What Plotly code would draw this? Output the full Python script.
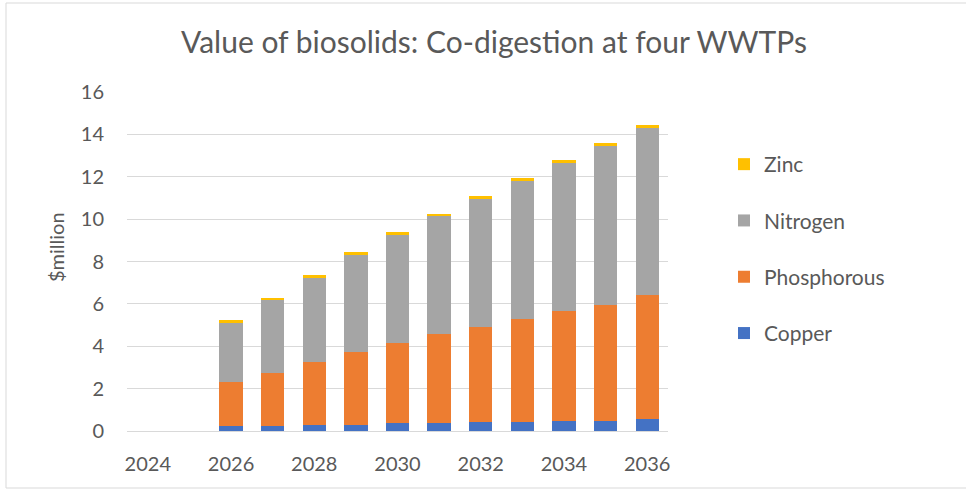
import plotly.graph_objects as go

# Years on the category axis (2024 and 2025 have no values)
years = [2024, 2025, 2026, 2027, 2028, 2029, 2030, 2031, 2032, 2033, 2034, 2035, 2036]
tick_years = [2024, 2026, 2028, 2030, 2032, 2034, 2036]

# Value of each recovered component, $million
copper = [None, None, 0.22, 0.22, 0.30, 0.30, 0.36, 0.36, 0.41, 0.41, 0.47, 0.47, 0.55]
phosphorous = [None, None, 2.09, 2.52, 2.95, 3.43, 3.81, 4.23, 4.50, 4.87, 5.19, 5.50, 5.85]
nitrogen = [None, None, 2.83, 3.47, 4.01, 4.60, 5.09, 5.55, 6.05, 6.54, 7.00, 7.50, 7.89]
zinc = [None, None, 0.09, 0.09, 0.09, 0.10, 0.11, 0.12, 0.12, 0.13, 0.14, 0.14, 0.15]

# name, values, colour, position in the legend (top first)
series = [
    ("Copper", copper, "#4472C4", 4),
    ("Phosphorous", phosphorous, "#ED7D31", 3),
    ("Nitrogen", nitrogen, "#A5A5A5", 2),
    ("Zinc", zinc, "#FFC000", 1),
]

FONT = "Lato, 'Open Sans', sans-serif"
TEXT = "#595959"
GRID = "#D9D9D9"

W, H = 966, 492
L, R, T, B = 127, 298, 92, 61

fig = go.Figure()
for name, vals, color, rank in series:
    fig.add_trace(go.Bar(
        x=years, y=vals, name=name, legendgroup=name, legendrank=rank,
        marker=dict(color=color, line=dict(width=0)),
        width=0.56,
    ))

plot_w = W - L - R
plot_h = H - T - B


def px_x(p):
    return (p - L) / plot_w


def px_y(p):
    return (H - B - p) / plot_h


fig.update_layout(
    width=W, height=H,
    margin=dict(l=L, r=R, t=T, b=B),
    barmode="stack",
    paper_bgcolor="white", plot_bgcolor="white",
    font=dict(family=FONT, color=TEXT, size=20),
    title=dict(
        text="Value of biosolids: Co-digestion at four WWTPs",
        x=494 / W, xref="container", xanchor="center",
        y=1 - 42 / H, yref="container", yanchor="middle",
        font=dict(size=30, color=TEXT, family=FONT),
    ),
    xaxis=dict(
        range=[2023.5, 2036.5],
        tickmode="array", tickvals=tick_years,
        ticktext=[str(y) for y in tick_years],
        showgrid=False, zeroline=False, showline=False,
        ticks="", ticklabelstandoff=19,
        tickfont=dict(size=20, color=TEXT),
    ),
    yaxis=dict(
        range=[0, 16], dtick=2, tick0=0,
        showgrid=True, gridcolor=GRID, gridwidth=1,
        zeroline=True, zerolinecolor=GRID, zerolinewidth=1,
        showline=False, ticks="", ticklabelstandoff=22,
        tickfont=dict(size=20, color=TEXT),
    ),
    legend=dict(
        traceorder="grouped", tracegroupgap=26,
        x=724 / W, xref="container", xanchor="left",
        y=1 - 144 / H, yref="container", yanchor="top",
        font=dict(size=21, color=TEXT, family=FONT),
        bgcolor="rgba(0,0,0,0)",
    ),
    showlegend=True,
    annotations=[dict(
        text="$million", textangle=-90,
        x=px_x(56), y=px_y(247), xref="paper", yref="paper",
        xanchor="center", yanchor="middle", showarrow=False,
        font=dict(size=20, color=TEXT, family=FONT),
    )],
    shapes=[dict(
        type="rect", xref="paper", yref="paper",
        x0=px_x(6), x1=px_x(980), y0=px_y(488), y1=px_y(3),
        line=dict(color=GRID, width=1), fillcolor="rgba(0,0,0,0)",
        layer="below",
    )],
)

fig.write_html("out.html")
